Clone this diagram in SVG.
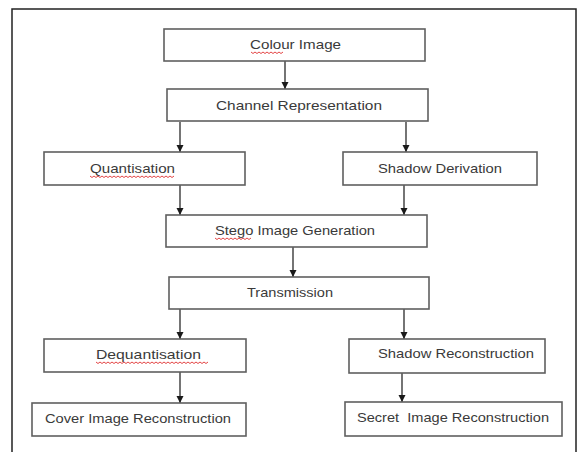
<svg xmlns="http://www.w3.org/2000/svg" width="581" height="452" viewBox="0 0 581 452">
  <style>
    .box { fill: #ffffff; stroke: #5f5f5f; stroke-width: 1.6; }
    .lbl { font-family: "Liberation Sans", "Noto Sans", sans-serif; font-size: 13px; fill: #3a3a3a; }
    .link { stroke: #2a2a2a; stroke-width: 1.3; fill: none; marker-end: url(#arrow); }
    .squiggle { stroke: #e03030; stroke-width: 0.9; fill: none; }
  </style>
  <defs>
    <marker id="arrow" markerUnits="userSpaceOnUse" markerWidth="8" markerHeight="8" refX="7" refY="3.5" orient="auto">
      <path d="M0,0 L7,3.5 L0,7 z" fill="#1a1a1a"/>
    </marker>
  </defs>

  <rect width="581" height="452" fill="#ffffff"/>
  <!-- outer frame, open at the bottom -->
  <path d="M12,460 V9 H576 V460" fill="none" stroke="#222222" stroke-width="1.5"/>

  <g id="connectors">
    <line class="link" x1="285" y1="61" x2="285" y2="89"/>
    <line class="link" x1="180" y1="122" x2="180" y2="152"/>
    <line class="link" x1="406" y1="122" x2="406" y2="152"/>
    <line class="link" x1="180" y1="185" x2="180" y2="215"/>
    <line class="link" x1="404" y1="185" x2="404" y2="215"/>
    <line class="link" x1="293" y1="247" x2="293" y2="277"/>
    <line class="link" x1="180" y1="309" x2="180" y2="339"/>
    <line class="link" x1="404" y1="309" x2="404" y2="339"/>
    <line class="link" x1="180" y1="372" x2="180" y2="403"/>
    <line class="link" x1="402" y1="373" x2="402" y2="402"/>
  </g>

  <g id="colour-image">
    <rect class="box" x="164" y="29" width="261" height="32"/>
    <text class="lbl" x="250" y="49" textLength="91" lengthAdjust="spacingAndGlyphs">Colour Image</text>
    <path class="squiggle" d="M251,52 l2,1.5 l2,-1.5 l2,1.5 l2,-1.5 l2,1.5 l2,-1.5 l2,1.5 l2,-1.5 l2,1.5 l2,-1.5 l2,1.5 l2,-1.5 l2,1.5 l2,-1.5 l2,1.5 l2,-1.5"/>
  </g>

  <g id="channel-representation">
    <rect class="box" x="167" y="89" width="261" height="32"/>
    <text class="lbl" x="216" y="110" textLength="166" lengthAdjust="spacingAndGlyphs">Channel  Representation</text>
  </g>

  <g id="quantisation">
    <rect class="box" x="44" y="152" width="201" height="33"/>
    <text class="lbl" x="90" y="173" textLength="85" lengthAdjust="spacingAndGlyphs">Quantisation</text>
    <path class="squiggle" d="M90,176 l2,1.5 l2,-1.5 l2,1.5 l2,-1.5 l2,1.5 l2,-1.5 l2,1.5 l2,-1.5 l2,1.5 l2,-1.5 l2,1.5 l2,-1.5 l2,1.5 l2,-1.5 l2,1.5 l2,-1.5 l2,1.5 l2,-1.5 l2,1.5 l2,-1.5 l2,1.5 l2,-1.5 l2,1.5 l2,-1.5 l2,1.5 l2,-1.5 l2,1.5 l2,-1.5 l2,1.5 l2,-1.5 l2,1.5 l2,-1.5 l2,1.5 l2,-1.5 l2,1.5 l2,-1.5 l2,1.5 l2,-1.5 l2,1.5 l2,-1.5 l2,1.5 l2,-1.5"/>
  </g>

  <g id="shadow-derivation">
    <rect class="box" x="343" y="152" width="194" height="33"/>
    <text class="lbl" x="378" y="173" textLength="124" lengthAdjust="spacingAndGlyphs">Shadow Derivation</text>
  </g>

  <g id="stego-image-generation">
    <rect class="box" x="166" y="215" width="261" height="32"/>
    <text class="lbl" x="215" y="235" textLength="160" lengthAdjust="spacingAndGlyphs">Stego Image Generation</text>
    <path class="squiggle" d="M215,238 l2,1.5 l2,-1.5 l2,1.5 l2,-1.5 l2,1.5 l2,-1.5 l2,1.5 l2,-1.5 l2,1.5 l2,-1.5 l2,1.5 l2,-1.5 l2,1.5 l2,-1.5 l2,1.5 l2,-1.5 l2,1.5 l2,-1.5"/>
  </g>

  <g id="transmission">
    <rect class="box" x="169" y="277" width="260" height="32"/>
    <text class="lbl" x="247" y="297" textLength="86" lengthAdjust="spacingAndGlyphs">Transmission</text>
  </g>

  <g id="dequantisation">
    <rect class="box" x="44" y="339" width="202" height="33"/>
    <text class="lbl" x="96" y="359" textLength="105" lengthAdjust="spacingAndGlyphs">Dequantisation</text>
    <path class="squiggle" d="M96,362 l2,1.5 l2,-1.5 l2,1.5 l2,-1.5 l2,1.5 l2,-1.5 l2,1.5 l2,-1.5 l2,1.5 l2,-1.5 l2,1.5 l2,-1.5 l2,1.5 l2,-1.5 l2,1.5 l2,-1.5 l2,1.5 l2,-1.5 l2,1.5 l2,-1.5 l2,1.5 l2,-1.5 l2,1.5 l2,-1.5 l2,1.5 l2,-1.5 l2,1.5 l2,-1.5 l2,1.5 l2,-1.5 l2,1.5 l2,-1.5 l2,1.5 l2,-1.5 l2,1.5 l2,-1.5 l2,1.5 l2,-1.5 l2,1.5 l2,-1.5 l2,1.5 l2,-1.5 l2,1.5 l2,-1.5 l2,1.5 l2,-1.5 l2,1.5 l2,-1.5 l2,1.5 l2,-1.5 l2,1.5 l2,-1.5 l2,1.5 l2,-1.5 l2,1.5 l2,-1.5"/>
  </g>

  <g id="shadow-reconstruction">
    <rect class="box" x="349" y="339" width="196" height="34"/>
    <text class="lbl" x="378" y="358" textLength="156" lengthAdjust="spacingAndGlyphs">Shadow Reconstruction</text>
  </g>

  <g id="cover-image-reconstruction">
    <rect class="box" x="32" y="403" width="214" height="33"/>
    <text class="lbl" x="45" y="423" textLength="186" lengthAdjust="spacingAndGlyphs">Cover Image Reconstruction</text>
  </g>

  <g id="secret-image-reconstruction">
    <rect class="box" x="345" y="402" width="217" height="34"/>
    <text class="lbl" x="357" y="422" textLength="192" lengthAdjust="spacingAndGlyphs" xml:space="preserve">Secret  Image Reconstruction</text>
  </g>
</svg>
